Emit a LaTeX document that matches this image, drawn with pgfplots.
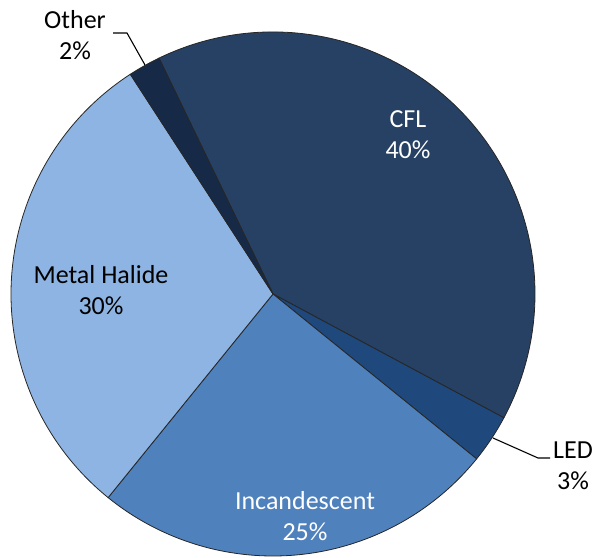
\documentclass[border=0pt]{standalone}
\usepackage{pgfplots}
\pgfplotsset{compat=1.18}
\usepackage{pgfplotstable}
\usepackage{fontspec}
\setmainfont{Carlito}
\definecolor{cfl}{HTML}{264163}
\definecolor{led}{HTML}{1F497D}
\definecolor{inc}{HTML}{4F81BD}
\definecolor{mh}{HTML}{8DB4E2}
\definecolor{oth}{HTML}{162A48}
% share of each source (percent), clockwise from the CFL slice
\pgfplotstableread{
label cum pct
CFL 0 40
LED 40 3
Incandescent 43 25
MetalHalide 68 30
Other 98 2
}\piedata
\newcommand\pieslice[3]{%
  \fill[#3, draw=black!85, line width=0.8bp] (axis cs:273,264) -- ++({115.8-3.6*#1}:262bp)
    arc[start angle={115.8-3.6*#1}, delta angle={-3.6*#2}, radius=262bp] -- cycle;}
\begin{document}
\begin{tikzpicture}
\path[use as bounding box] (0,0) rectangle (597bp,558bp);
\begin{axis}[scale only axis, width=597bp, height=558bp,
  xmin=0, xmax=597, ymin=0, ymax=558, hide axis, clip=false]
\pieslice{0}{40}{cfl}
\pieslice{40}{3}{led}
\pieslice{43}{25}{inc}
\pieslice{68}{30}{mh}
\pieslice{98}{2}{oth}
% leader lines
\draw[black, line width=1.1bp] (axis cs:145,493) -- (axis cs:127,525) -- (axis cs:113,525);
\draw[black, line width=1.1bp] (axis cs:493,120) -- (axis cs:538,100) -- (axis cs:550,100);
\begin{scope}[every node/.style={align=center, font=\fontsize{26bp}{31bp}\selectfont}]
\node[white] at (axis cs:408,423) {CFL\\40\%};
\node[black] at (axis cs:573,92) {LED\\3\%};
\node[white] at (axis cs:305,42) {Incandescent\\25\%};
\node[black] at (axis cs:101,268) {Metal Halide\\30\%};
\node[black] at (axis cs:75,523) {Other\\2\%};
\end{scope}
\end{axis}
\end{tikzpicture}
\end{document}
